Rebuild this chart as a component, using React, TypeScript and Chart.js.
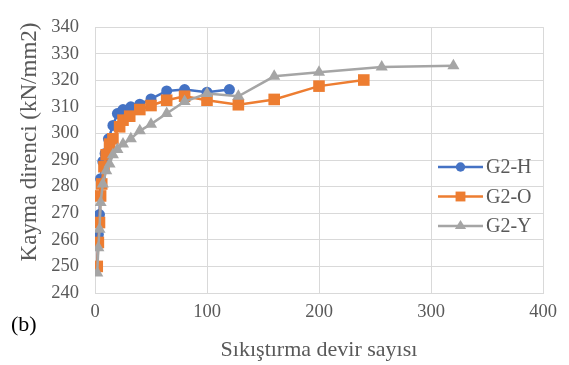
import React, { useEffect, useRef } from 'react';
import { Chart, registerables } from 'chart.js';

Chart.register(...registerables);

// Data
const seriesNames = ['G2-H', 'G2-O', 'G2-Y'];

const hX = [2, 3, 4, 5, 7, 9, 12, 16, 20, 25, 32, 40, 50, 64, 80, 100, 120];
const hY = [250, 262, 269.5, 283, 289.5, 292.5, 298, 303, 307.5, 309, 310, 311, 313, 316, 316.5, 315.5, 316.5];

const oX = [2, 3, 4, 5, 6, 8, 10, 13, 16, 22, 25, 31, 40, 50, 64, 80, 100, 128, 160, 200, 240];
const oY = [250, 259, 266.5, 276.5, 281, 287.5, 292, 296, 298, 302.5, 305, 306.5, 309, 310.5, 312.5, 314, 312.5, 310.8, 312.8, 317.8, 320.1];

const yX = [2, 3, 4, 5, 7, 10, 13, 16, 20, 25, 32, 40, 50, 64, 80, 100, 128, 160, 200, 256, 320];
const yY = [247.5, 257, 264, 274, 281, 286, 288.5, 292, 294, 296, 298, 301, 303.5, 307.5, 312, 315, 314, 321.5, 323, 325, 325.5];

const xMin = 0;
const xMax = 400;
const xStep = 100;
const yMin = 240;
const yMax = 340;
const yStep = 10;

const xTitle = 'Sıkıştırma devir sayısı';
const yTitle = 'Kayma direnci (kN/mm2)';
const panelLabel = '(b)';

const FONT = '"Liberation Serif", "Times New Roman", serif';
const TEXT = '#595959';
const GRID = '#d9d9d9';

function drawMarker(ctx: CanvasRenderingContext2D, style: string, x: number, y: number, r: number, color: string) {
  ctx.fillStyle = color;
  ctx.beginPath();
  if (style === 'circle') {
    ctx.arc(x, y, r, 0, Math.PI * 2);
  } else if (style === 'rect') {
    const s = r * Math.SQRT1_2;
    ctx.rect(x - s, y - s, 2 * s, 2 * s);
  } else {
    const h = r * 1.5;
    ctx.moveTo(x, y - h * 0.66);
    ctx.lineTo(x + r * 0.95, y + h * 0.34);
    ctx.lineTo(x - r * 0.95, y + h * 0.34);
    ctx.closePath();
  }
  ctx.fill();
}

export default function App() {
  const ref = useRef<HTMLCanvasElement>(null);

  useEffect(() => {
    document.body.style.margin = '0';
    const toPts = (xs: number[], ys: number[]) => xs.map((x, i) => ({ x, y: ys[i] }));

    const colors = ['#4472C4', '#ED7D31', '#A5A5A5'];
    const styles = ['circle', 'rect', 'triangle'];
    const radii = [5.5, 8.2, 7];
    const sets = [toPts(hX, hY), toPts(oX, oY), toPts(yX, yY)];

    const legendPlugin = {
      id: 'customLegend',
      afterDraw(chart: any) {
        const ctx = chart.ctx as CanvasRenderingContext2D;
        chart.data.datasets.forEach((ds: any, i: number) => {
          const y = 167 + i * 29.5;
          ctx.save();
          ctx.strokeStyle = ds.borderColor;
          ctx.lineWidth = 2.5;
          ctx.beginPath();
          ctx.moveTo(438, y);
          ctx.lineTo(483, y);
          ctx.stroke();
          drawMarker(ctx, ds.pointStyle, 460.5, y, ds.pointRadius * 0.85, ds.pointBackgroundColor);
          ctx.fillStyle = TEXT;
          ctx.font = `20px ${FONT}`;
          ctx.textBaseline = 'middle';
          ctx.textAlign = 'left';
          ctx.fillText(ds.label, 486, y + 1);
          ctx.restore();
        });
      },
    };

    const textPlugin = {
      id: 'extraText',
      afterDraw(chart: any) {
        const ctx = chart.ctx as CanvasRenderingContext2D;
        ctx.save();
        ctx.fillStyle = '#000';
        ctx.font = `22px ${FONT}`;
        ctx.textBaseline = 'middle';
        ctx.textAlign = 'left';
        ctx.fillText(panelLabel, 11, 325);
        ctx.restore();

        ctx.save();
        ctx.translate(30, 142);
        ctx.rotate(-Math.PI / 2);
        ctx.fillStyle = TEXT;
        ctx.font = `23px ${FONT}`;
        ctx.textBaseline = 'middle';
        ctx.textAlign = 'center';
        ctx.fillText(yTitle, 0, 0);
        ctx.restore();
      },
    };

    const chart = new Chart(ref.current as HTMLCanvasElement, {
      type: 'scatter',
      data: {
        datasets: sets.map((data, i) => ({
          label: seriesNames[i],
          data,
          showLine: true,
          borderColor: colors[i],
          backgroundColor: colors[i],
          pointBackgroundColor: colors[i],
          pointBorderColor: colors[i],
          pointBorderWidth: 0,
          pointStyle: styles[i],
          pointRadius: radii[i],
          borderWidth: 2.5,
          order: 3 - i,
        })),
      },
      options: {
        animation: false,
        responsive: false,
        layout: { padding: { top: 11, right: 26, left: 0, bottom: 0 } },
        plugins: {
          legend: { display: false },
          tooltip: { enabled: false },
        },
        scales: {
          x: {
            type: 'linear',
            min: xMin,
            max: xMax,
            ticks: { stepSize: xStep, padding: 8, color: TEXT, font: { family: FONT, size: 18.5 } },
            grid: { color: GRID, drawTicks: false, lineWidth: 1 },
            border: { color: GRID },
            title: {
              display: true,
              text: xTitle,
              color: TEXT,
              font: { family: FONT, size: 22 },
              padding: { top: 0, bottom: 2 },
            },
            afterFit(scale: any) {
              scale.height = 72;
            },
          },
          y: {
            type: 'linear',
            min: yMin,
            max: yMax,
            ticks: { stepSize: yStep, padding: 16, color: TEXT, font: { family: FONT, size: 18.5 } },
            grid: { color: GRID, drawTicks: false, lineWidth: 1 },
            border: { color: GRID },
            title: { display: false },
            afterFit(scale: any) {
              scale.width = 95;
            },
          },
        },
      } as any,
      plugins: [legendPlugin, textPlugin],
    });

    return () => chart.destroy();
  }, []);

  return (
    <div style={{ width: 569, height: 365 }}>
      <canvas ref={ref} width={569} height={365} style={{ display: 'block' }} />
    </div>
  );
}
